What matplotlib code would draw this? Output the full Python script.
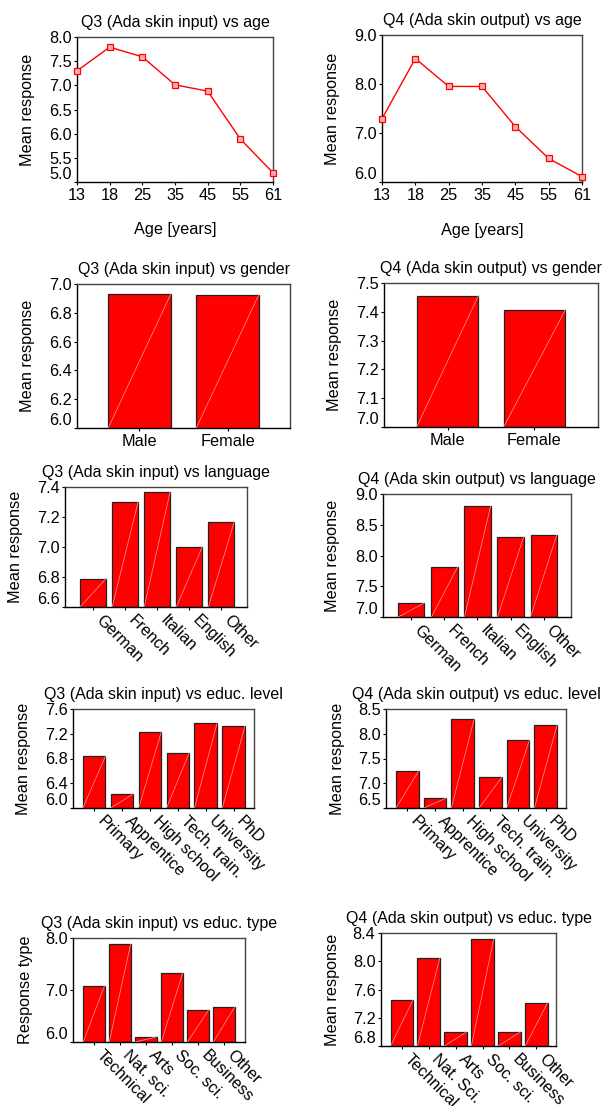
import numpy as np
import matplotlib.pyplot as plt

plt.rcParams['font.family'] = ['Liberation Sans', 'DejaVu Sans']
plt.rcParams['font.size'] = 11.7

# Datos
age_groups = ["13", "18", "25", "35", "45", "55", "61"]
q3_age = [7.30, 7.79, 7.59, 7.01, 6.88, 5.89, 5.19]
q4_age = [7.29, 8.52, 7.95, 7.95, 7.13, 6.48, 6.11]

genders = ["Male", "Female"]
q3_gender = [6.930, 6.925]
q4_gender = [7.456, 7.407]

languages = ["German", "French", "Italian", "English", "Other"]
q3_language = [6.79, 7.30, 7.37, 7.00, 7.17]
q4_language = [7.23, 7.81, 8.80, 8.30, 8.33]

educ_levels = ["Primary", "Apprentice", "High school", "Tech. train.", "University", "PhD"]
q3_level = [6.84, 6.23, 7.23, 6.89, 7.37, 7.32]
q4_level = [7.25, 6.70, 8.29, 7.12, 7.87, 8.18]

educ_types_q3 = ["Technical", "Nat. sci.", "Arts", "Soc. sci.", "Business", "Other"]
educ_types_q4 = ["Technical", "Nat. Sci.", "Arts", "Soc. sci.", "Business", "Other"]
q3_type = [7.08, 7.88, 6.10, 7.33, 6.62, 6.68]
q4_type = [7.45, 8.05, 7.00, 8.31, 7.00, 7.41]

W, H = 608, 1106
fig = plt.figure(figsize=(W / 100, H / 100), dpi=100)


def make_ax(l, t, r, b):
    return fig.add_axes([l / W, 1 - b / H, (r - l) / W, (b - t) / H])


def style(ax, title, ylabel, yticks, ylab_x):
    ax.set_title(title, pad=7.5, fontsize=11.5)
    ax.set_ylim(yticks[0], yticks[-1])
    ax.set_yticks(yticks)
    ax.set_yticklabels([f"{v:.1f}" for v in yticks])
    ax.set_ylabel(ylabel)
    ax.yaxis.set_label_coords(ylab_x, 0.5)
    ax.tick_params(direction='out', length=2.5, width=0.8, pad=1.5, colors='black')
    for s in ['left', 'bottom']:
        ax.spines[s].set_color('black')
        ax.spines[s].set_linewidth(1.0)
    for s in ['top', 'right']:
        ax.spines[s].set_color('#444444')
        ax.spines[s].set_linewidth(1.0)
    ax.get_yticklabels()[0].set_va('bottom')


def line_panel(box, title, values, yticks, ylab_x):
    ax = make_ax(*box)
    x = np.arange(len(age_groups))
    ax.plot(x, values, color='red', lw=1.0, marker='s', ms=3.8,
            mfc='#ffb0b0', mec='red', mew=0.9, clip_on=False, zorder=3)
    ax.set_xlim(0, len(age_groups) - 1)
    ax.set_xticks(x)
    ax.set_xticklabels(age_groups)
    style(ax, title, "Mean response", yticks, ylab_x)
    ax.set_xlabel("Age [years]")
    ax.xaxis.set_label_coords(0.5, -0.276)
    return ax


def bar_panel(box, title, cats, values, yticks, xlim, width, ylab_x,
              rotate=True, ylabel="Mean response"):
    ax = make_ax(*box)
    x = np.arange(len(cats))
    ax.bar(x, np.array(values) - yticks[0], bottom=yticks[0], width=width,
           color='#ff0000', edgecolor='#222222', linewidth=0.9, zorder=2)
    # línea diagonal clara dentro de cada barra
    for xi, v in zip(x, values):
        ax.plot([xi - width / 2, xi + width / 2], [yticks[0], v],
                color='#ff9c9c', lw=0.5, zorder=3)
    ax.set_xlim(*xlim)
    ax.set_xticks(x)
    if rotate:
        ax.set_xticklabels(cats, rotation=-45, ha='left', va='top',
                           rotation_mode='default')
    else:
        ax.set_xticklabels(cats)
    style(ax, title, ylabel, yticks, ylab_x)
    return ax


line_panel((77, 37, 273, 182), "Q3 (Ada skin input) vs age", q3_age,
           [5.0, 5.5, 6.0, 6.5, 7.0, 7.5, 8.0], -0.214)
line_panel((382, 35, 582, 182), "Q4 (Ada skin output) vs age", q4_age,
           [6.0, 7.0, 8.0, 9.0], -0.21)

bar_panel((77, 284, 290, 428), "Q3 (Ada skin input) vs gender", genders, q3_gender,
          [6.0, 6.2, 6.4, 6.6, 6.8, 7.0], (-0.71, 1.71), 0.71, -0.197, rotate=False)
bar_panel((384, 283, 598, 427), "Q4 (Ada skin output) vs gender", genders, q4_gender,
          [7.0, 7.1, 7.2, 7.3, 7.4, 7.5], (-0.73, 1.73), 0.71, -0.196, rotate=False)

bar_panel((65, 487, 247, 607), "Q3 (Ada skin input) vs language", languages, q3_language,
          [6.6, 6.8, 7.0, 7.2, 7.4], (-0.875, 4.8), 0.81, -0.231)
bar_panel((383, 494, 571, 617), "Q4 (Ada skin output) vs language", languages, q4_language,
          [7.0, 7.5, 8.0, 8.5, 9.0], (-0.86, 4.83), 0.79, -0.229)

bar_panel((73, 709, 254, 808), "Q3 (Ada skin input) vs educ. level", educ_levels, q3_level,
          [6.0, 6.4, 6.8, 7.2, 7.6], (-0.76, 5.73), 0.81, -0.232)
bar_panel((386, 709, 566, 808), "Q4 (Ada skin output) vs educ. level", educ_levels, q4_level,
          [6.5, 7.0, 7.5, 8.0, 8.5], (-0.77, 5.73), 0.82, -0.228)

bar_panel((73, 938, 245, 1042), "Q3 (Ada skin input) vs educ. type", educ_types_q3, q3_type,
          [6.0, 7.0, 8.0], (-0.8, 5.8), 0.82, -0.233, ylabel="Response type")
bar_panel((381, 933, 556, 1046), "Q4 (Ada skin output) vs educ. type", educ_types_q4, q4_type,
          [6.8, 7.2, 7.6, 8.0, 8.4], (-0.77, 5.73), 0.83, -0.234)

fig.savefig("out.png", dpi=100)
